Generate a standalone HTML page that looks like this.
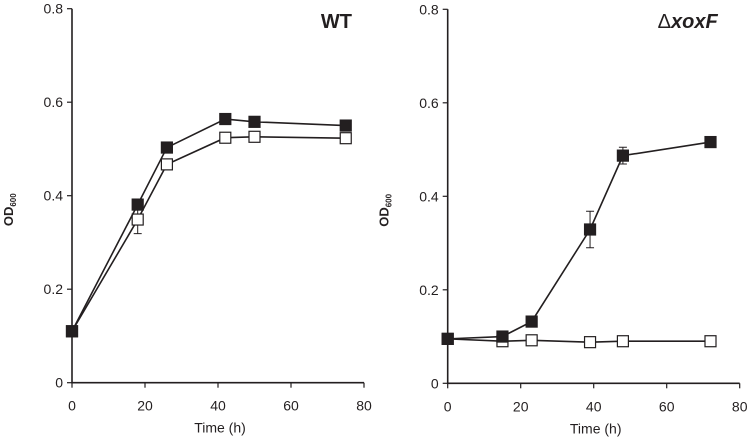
<!DOCTYPE html>
<html><head><meta charset="utf-8"><style>
body{margin:0;background:#fff}
svg text{font-family:"Liberation Sans",Arial,sans-serif;fill:#231f20}
</style></head><body>
<svg id="c" width="747" height="441"></svg>
<script>
const times1=[0,18,26,42,50,75];
const wtFilled=[0.11,0.381,0.503,0.564,0.558,0.55];
const wtOpen=[0.11,0.349,0.467,0.524,0.526,0.523];
const wtOpenErr=[0,0.03,0,0,0,0];
const wtFilledErr=[0,0.01,0,0,0,0];
const times2=[0,15,23,39,48,72];
const koFilled=[0.095,0.1,0.132,0.329,0.487,0.516];
const koOpen=[0.095,0.09,0.092,0.088,0.09,0.09];
const koFilledErr=[0,0,0,0.039,0.018,0];
const xTicks=[0,20,40,60,80];
const yTicks=[0,0.2,0.4,0.6,0.8];
const yTickLabels=["0","0.2","0.4","0.6","0.8"];
const NS="http://www.w3.org/2000/svg";
const svg=document.getElementById('c');
function el(t,a,p){const e=document.createElementNS(NS,t);for(const k in a)e.setAttribute(k,a[k]);(p||svg).appendChild(e);return e;}
function panel(name,x0,y0,times,filled,fErr,open,oErr,title,tOff){
  const g=el('g',{});
  
  
  const sx=v=>x0+v*3.65, sy=v=>y0-v*467.5;
  const ax=el('path',{d:`M${x0},${sy(0.8)}V${y0}H${sx(80)}`,stroke:'#231f20','stroke-width':1.6,fill:'none'},g);
  
  
  yTicks.forEach((v,i)=>{
    el('line',{x1:x0-5,x2:x0,y1:sy(v),y2:sy(v),stroke:'#231f20','stroke-width':1.2},g);
    const t=el('text',{x:x0-9,y:sy(v)+5,'text-anchor':'end','font-size':14},g);
    t.textContent=yTickLabels[i];
    
    
  });
  xTicks.forEach(v=>{
    el('line',{x1:sx(v),x2:sx(v),y1:y0,y2:y0+5,stroke:'#231f20','stroke-width':1.2},g);
    const t=el('text',{x:sx(v),y:y0+28,'text-anchor':'middle','font-size':14},g);
    t.textContent=v;
    
    
  });
  const xt=el('text',{x:sx(40)+2,y:y0+50,'text-anchor':'middle','font-size':14},g);
  xt.textContent='Time (h)';
  
  
  const yt=el('text',{transform:`translate(${x0-59},${sy(0.37)}) rotate(-90)`,'font-size':13,'font-weight':'bold','text-anchor':'middle'},g);
  yt.innerHTML='OD<tspan font-size="8" dy="3">600</tspan>';
  
  
  const tt=el('text',{x:sx(80)-tOff,y:28,'text-anchor':'end','font-size':20,'font-weight':'bold'},g);
  tt.innerHTML=title;
  
  
  [[open,oErr,'#fff','open-series'],[filled,fErr,'#231f20','filled-series']].forEach(([d,e,fill,nm])=>{
    const s=el('g',{},g);
    
    
    el('polyline',{points:times.map((t,i)=>sx(t)+','+sy(d[i])).join(' '),fill:'none',stroke:'#231f20','stroke-width':1.6},s);
    times.forEach((t,i)=>{
      if(e[i]>0){
        const x=sx(t);
        el('path',{d:`M${x},${sy(d[i]-e[i])}V${sy(d[i]+e[i])}M${x-4},${sy(d[i]-e[i])}h8M${x-4},${sy(d[i]+e[i])}h8`,stroke:'#231f20','stroke-width':1,fill:'none'},s);
      }
      const r=el('rect',{x:sx(t)-5.5,y:sy(d[i])-5.5,width:11,height:11,fill:fill,stroke:'#231f20','stroke-width':1.2},s);
      
      
    });
  });
}
panel('wt-panel',72,382.7,times1,wtFilled,wtFilledErr,wtOpen,wtOpenErr,'WT',12);
panel('xoxf-panel',447.7,383.3,times2,koFilled,koFilledErr,koOpen,[0,0,0,0,0,0],'<tspan font-weight="normal">Δ</tspan><tspan font-style="italic">xoxF</tspan>',22);
</script>
</body></html>
